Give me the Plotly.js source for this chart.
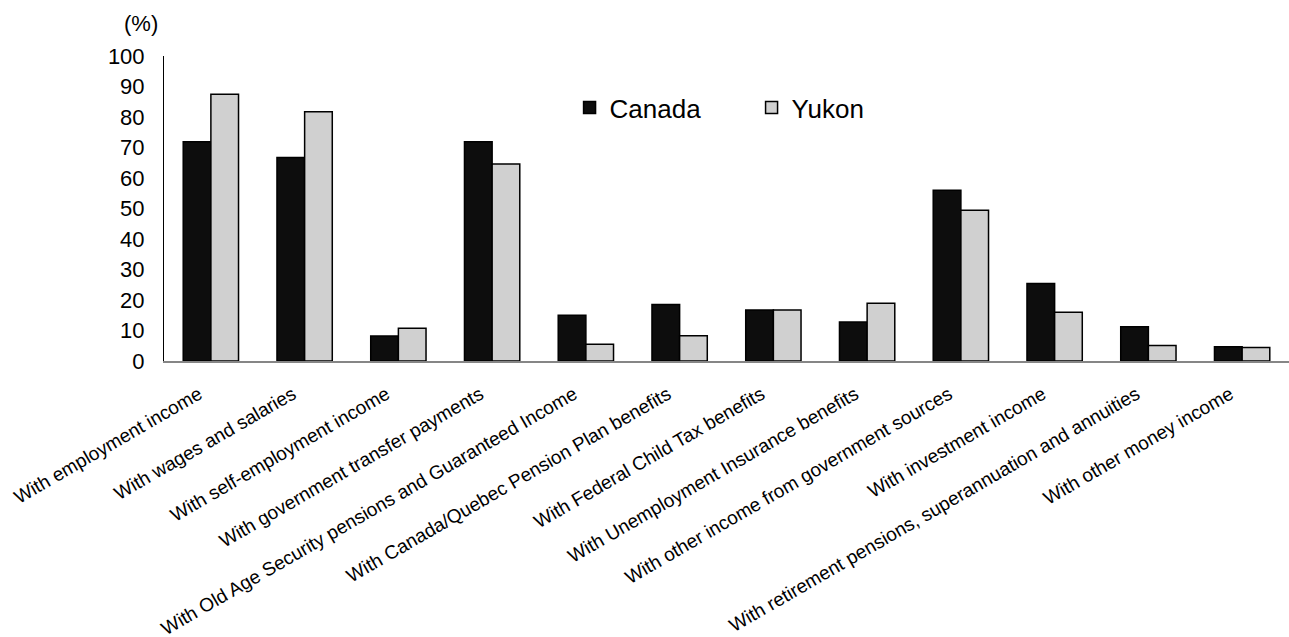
<!DOCTYPE html>
<html>
<head>
<meta charset="utf-8">
<script src="https://cdn.plot.ly/plotly-3.0.1.min.js"></script>
<style>html,body{margin:0;padding:0;background:#fff;}#chart{width:1289px;height:637px;}</style>
</head>
<body>
<div id="chart"></div>
<script>
const categories = [
  "With employment income",
  "With wages and salaries",
  "With self-employment income",
  "With government transfer payments",
  "With Old Age Security pensions and Guaranteed Income",
  "With Canada/Quebec Pension Plan benefits",
  "With Federal Child Tax benefits",
  "With Unemployment Insurance benefits",
  "With other income from government sources",
  "With investment income",
  "With retirement pensions, superannuation and annuities",
  "With other money income"
];
const canadaValues = [71.9, 66.7, 8.2, 71.9, 15.0, 18.5, 16.7, 12.8, 56.0, 25.4, 11.2, 4.7];
const yukonValues  = [87.5, 81.7, 10.7, 64.6, 5.5, 8.3, 16.7, 18.9, 49.4, 16.0, 5.1, 4.4];
const yTickValues = [0,10,20,30,40,50,60,70,80,90,100];

const traces = [
  {type:'bar', name:'Canada', x:categories, y:canadaValues,
   marker:{color:'#0d0d0d', line:{color:'#000', width:1.5}}},
  {type:'bar', name:'Yukon', x:categories, y:yukonValues,
   marker:{color:'#d0d0d0', line:{color:'#000', width:1.5}}}
];
const layout = {
  width:1289, height:637,
  margin:{l:164, r:0, t:56, b:276},
  paper_bgcolor:'#fff', plot_bgcolor:'#fff',
  font:{family:'Liberation Sans, Arial, sans-serif', color:'#000'},
  barmode:'group', bargap:0.41, bargroupgap:0,
  showlegend:true,
  legend:{orientation:'h', x:0.3605, y:0.831, xanchor:'left', yanchor:'middle',
          font:{size:26, color:'#000'}, bgcolor:'rgba(0,0,0,0)', itemwidth:30,
          entrywidth:137, entrywidthmode:'pixels', traceorder:'normal'},
  xaxis:{tickangle:-30, tickfont:{size:19, color:'#000'}, showline:true,
         linecolor:'#868686', linewidth:2, ticks:'', showgrid:false, automargin:false,
         ticklabelstandoff:13, ticklabelshift:-12},
  yaxis:{range:[0,100], tickvals:yTickValues, ticktext:yTickValues.map(String),
         tickfont:{size:22, color:'#000'}, showline:true, linecolor:'#000', linewidth:1,
         ticks:'outside', ticklen:14, tickcolor:'rgba(0,0,0,0)', showgrid:false, zeroline:false,
         automargin:false},
  annotations:[{text:'(%)', xref:'paper', yref:'paper', x:-0.0204, y:1.108,
                xanchor:'center', yanchor:'middle', showarrow:false, font:{size:22, color:'#000'}}]
};
Plotly.newPlot('chart', traces, layout, {displayModeBar:false, staticPlot:true});
</script>
</body>
</html>
